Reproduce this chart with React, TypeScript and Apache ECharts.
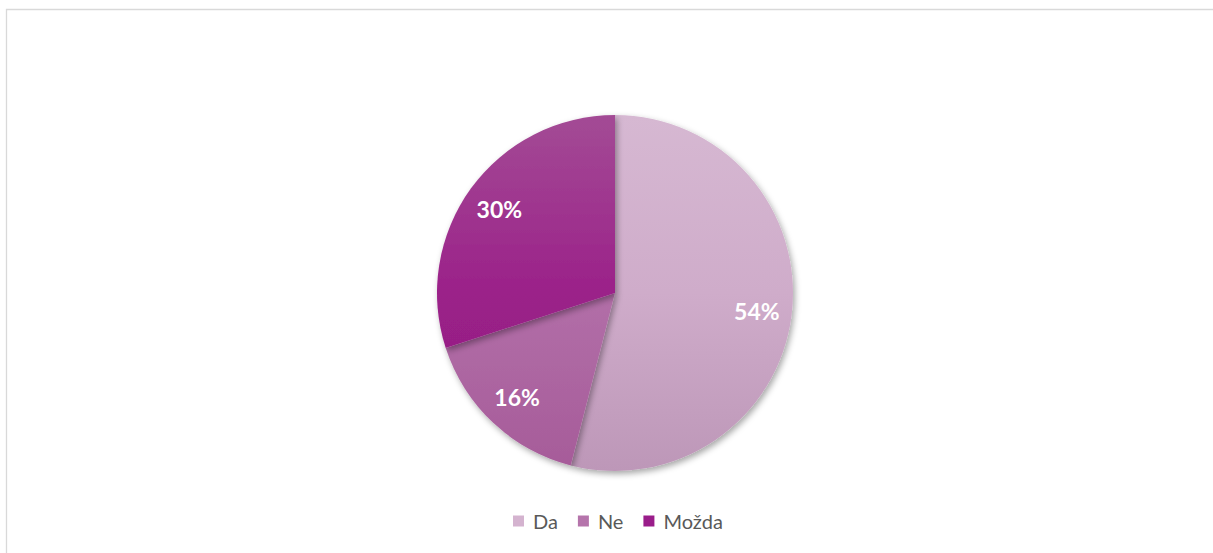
import React, { useEffect, useRef } from "react";
import * as echarts from "echarts";

const categories = ["Da", "Ne", "Možda"];
const values = [54, 16, 30];
const topColors = ["#d6b8d2", "#b97db1", "#a34b95"];
const midColors = ["#cfacca", "#b26fa8", "#9b2189"];
const bottomColors = ["#bd97b8", "#a65b99", "#8f1a7e"];
const legendColors = ["#d4b3cf", "#b574ab", "#9a1d8a"];

export default function App() {
  const ref = useRef<HTMLDivElement>(null);
  useEffect(() => {
    document.body.style.margin = "0";
    const chart = echarts.init(ref.current!, null, { renderer: "svg" });
    const cy = 293;
    const r = 178;
    const grad = (i: number) => ({
      type: "linear",
      x: 0,
      y: cy - r,
      x2: 0,
      y2: cy + r,
      global: true,
      colorStops: [
        { offset: 0, color: topColors[i] },
        { offset: 0.5, color: midColors[i] },
        { offset: 1, color: bottomColors[i] },
      ],
    });
    chart.setOption({
      animation: false,
      backgroundColor: "#ffffff",
      graphic: [
        {
          type: "rect",
          shape: { x: 6.5, y: 9.5, width: 1230, height: 570 },
          style: { fill: "none", stroke: "#d9d9d9", lineWidth: 1.3 },
          silent: true,
        },
      ],
      legend: {
        data: categories.map((c, i) => ({ name: c, itemStyle: { color: legendColors[i] } })),
        bottom: 17,
        left: 508,
        itemWidth: 11,
        itemHeight: 11,
        itemGap: 20,
        icon: "rect",
        textStyle: {
          color: "#595959",
          fontSize: 20,
          fontFamily: "Lato",
          padding: [0, 0, 0, 4],
        },
      },
      series: [
        {
          type: "pie",
          center: [615, cy],
          radius: [0, r],
          startAngle: 90,
          clockwise: true,
          label: { show: false },
          labelLine: { show: false },
          emphasis: { disabled: true },
          itemStyle: {
            shadowBlur: 6,
            shadowOffsetX: 2,
            shadowOffsetY: 3,
            shadowColor: "rgba(0,0,0,0.35)",
          },
          data: categories.map((c, i) => ({
            name: c,
            value: values[i],
            itemStyle: { color: grad(i) },
          })),
        },
        {
          type: "pie",
          center: [615, cy],
          radius: [0, 280],
          startAngle: 90,
          clockwise: true,
          silent: true,
          itemStyle: { color: "rgba(0,0,0,0)" },
          label: {
            show: true,
            position: "inside",
            formatter: "{c}%",
            color: "#ffffff",
            fontSize: 23,
            fontWeight: "bold",
            fontFamily: "Lato",
          },
          labelLine: { show: false },
          emphasis: { disabled: true },
          data: categories.map((c, i) => ({ name: c, value: values[i] })),
        },
      ],
    });
    return () => chart.dispose();
  }, []);
  return <div ref={ref} style={{ width: 1213, height: 553 }} />;
}
